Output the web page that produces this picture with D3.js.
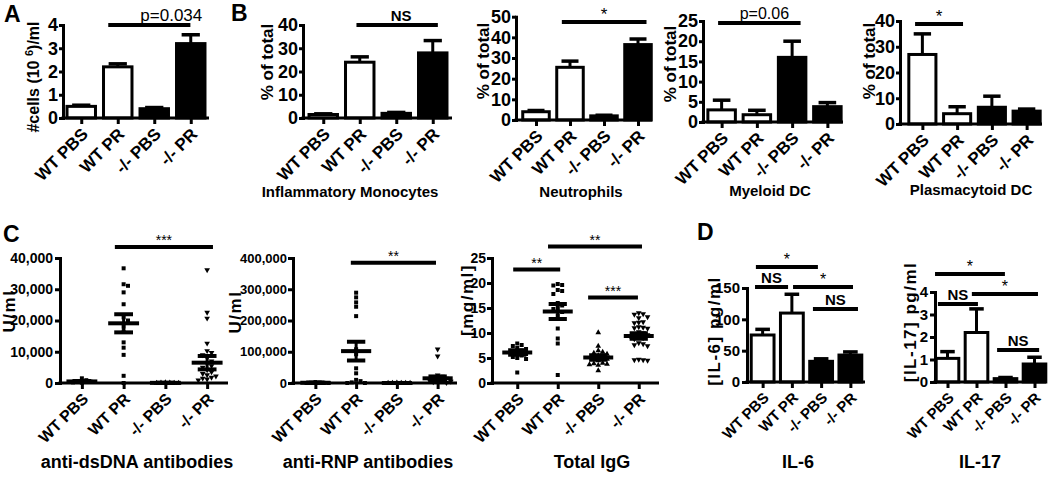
<!DOCTYPE html>
<html><head><meta charset="utf-8">
<script src="https://cdn.jsdelivr.net/npm/d3@7"></script>
<style>
body{margin:0;background:#fff}
svg text{font-family:"Liberation Sans",Arial,Helvetica,sans-serif;fill:#000}
</style></head><body>
<svg id="c" width="1050" height="477"></svg>
<script>
// ---------------- DATA ----------------
const groups = ["WT PBS", "WT PR", "-/- PBS", "-/- PR"];

// A: cells
const cellsMean = [0.5, 2.2, 0.4, 3.2];
const cellsSem  = [0.05, 0.13, 0.05, 0.38];
const cellsTicks = [0, 1, 2, 3, 4];
// B
const monoMean = [1.5, 24, 2, 28];
const monoSem  = [0.3, 2.3, 0.4, 5.3];
const monoTicks = [0, 10, 20, 30, 40];
const neutMean = [4, 25.5, 2, 36.5];
const neutSem  = [0.6, 3, 0.3, 2.7];
const neutTicks = [0, 10, 20, 30, 40, 50];
const mdcMean = [3, 1.8, 16, 3.8];
const mdcSem  = [2.4, 1.1, 4, 1];
const mdcTicks = [0, 5, 10, 15, 20, 25];
const pdcMean = [27, 4, 6.5, 5];
const pdcSem  = [8, 2.7, 4.3, 0.8];
const pdcTicks = [0, 10, 20, 30, 40];

// C: anti-dsDNA (U/ml)
const dsdnaPoints = [
  [1500, 900, 600, 400, 200, 100],
  [36700, 31600, 31100, 29000, 25200, 21000, 20000, 18000, 16500, 13000, 11300, 9000, 2300, 0],
  [150, 100, 50, 0, 0, 0],
  [36200, 22600, 20700, 12700, 10300, 9700, 9000, 8000, 7000, 6200, 5500, 5000, 4200, 3500, 3000, 2600, 2200, 1800, 1500, 1200, 900]
];
const dsdnaMean = [500, 19100, 50, 6500];
const dsdnaSem  = [150, 2900, 15, 2150];
const dsdnaTicks = [0, 10000, 20000, 30000, 40000];
// anti-RNP (U/ml)
const rnpPoints = [
  [3000, 1500, 800, 300, 0, 0],
  [289000, 274000, 258000, 244000, 214000, 108000, 92000, 47000, 31000, 10000, 6000, 2000, 0, 0],
  [500, 200, 0, 0, 0, 0],
  [108000, 86000, 25000, 21000, 18000, 15000, 12000, 9000, 7000, 5000, 3000, 1000]
];
const rnpMean = [800, 102000, 100, 15000];
const rnpSem  = [400, 30000, 60, 6000];
const rnpTicks = [0, 100000, 200000, 300000, 400000];
// Total IgG (mg/ml)
const iggPoints = [
  [7.9, 7.6, 7.4, 7.0, 6.8, 6.5, 6.3, 6.0, 5.8, 5.5, 5.2, 5.0, 4.8, 2.1],
  [19.8, 19.6, 19.5, 18.6, 18.4, 17.8, 16, 15.5, 15, 14.8, 14.2, 13.5, 10.9, 8.9, 7.9, 1.6],
  [10.1, 7.4, 6.5, 6.2, 6.0, 5.8, 5.5, 5.3, 5.0, 4.8, 4.5, 4.0, 3.9, 3.8, 3.7, 3.6, 2.5],
  [14.0, 13.8, 13.7, 13.2, 13.0, 12.2, 12.1, 12.0, 11.2, 11.1, 11.0, 10.9, 10.2, 10.0, 9.8, 9.6, 9.4, 9.2, 9.0, 8.8, 8.0, 7.8, 7.6, 7.4, 4.7, 4.6, 4.6, 4.5]
];
const iggMean = [6.1, 14.3, 5.1, 9.4];
const iggSem  = [0.45, 1.5, 0.45, 0.55];
const iggTicks = [0, 5, 10, 15, 20, 25];

// D
const il6Mean = [75, 110, 33, 43];
const il6Sem  = [9, 30, 4, 5];
const il6Ticks = [0, 50, 100, 150];
const il17Mean = [1.05, 2.2, 0.15, 0.8];
const il17Sem  = [0.3, 1.05, 0.05, 0.3];
const il17Ticks = [0, 1, 2, 3, 4];

// significance annotations: [label, from group, to group, level]
const cellsSig = [["p=0.034", 0.74, 2.99, 4.0]];
const monoSig  = [["NS", 0.91, 3.14, 40]];
const neutSig  = [["*", 0.76, 3.25, 47.4]];
const mdcSig   = [["p=0.06", -0.1, 2.24, 24.5]];
const pdcSig   = [["*", -0.21, 1.17, 38.8]];
const dsdnaSig = [["***", 0.79, 3.14, 43500]];
const rnpSig   = [["**", 0.87, 2.96, 385000]];
const iggSig   = [["**", -0.1, 1.06, 22.7], ["**", 0.76, 3.08, 27.3], ["***", 1.75, 2.98, 17.1]];
const il6Sig   = [["*", -0.23, 1.89, 183.5], ["NS", -0.26, 0.87, 151.6], ["*", 1.04, 3.09, 151.6], ["NS", 1.72, 3.26, 116.5]];
const il17Sig  = [["*", -0.43, 1.98, 4.8], ["NS", -0.33, 1.05, 3.47], ["*", 0.84, 3.12, 3.91], ["NS", 1.71, 3.16, 1.42]];

// ---------------- DRAWING ----------------
const svg = d3.select("#c");
const FONT = '"Liberation Sans", Arial, Helvetica, sans-serif';
const barFills = ["#fff", "#fff", "#000", "#000"];

function addText(x, y, s, o = {}) {
  const t = svg.append("text").attr("x", x).attr("y", y).text(s)
    .attr("text-anchor", o.anchor || "middle")
    .attr("font-size", o.size || 16)
    .attr("font-weight", o.weight || "bold");
  if (o.ls) t.attr("letter-spacing", o.ls);
  if (o.rotate) t.attr("transform", `rotate(${o.rotate},${x},${y})`);
  return t;
}

function axes(p, x, y) {
  const ya = svg.append("g").attr("transform", `translate(${p.ax},0)`)
    .call(d3.axisLeft(y).tickValues(p.ticks).tickSize(p.tickLen ?? 5).tickSizeOuter(0).tickPadding(p.tickPad ?? 2).tickFormat(p.fmt || d3.format("d")));
  ya.select(".domain").attr("stroke-width", 3).attr("stroke-linecap", "square");
  ya.selectAll(".tick line").attr("stroke-width", 3);
  ya.selectAll(".tick text").attr("font-size", p.ytFont).attr("font-weight", "bold").attr("font-family", FONT).attr("fill", "#000");
  const xa = svg.append("g").attr("transform", `translate(0,${y(0)})`)
    .call(d3.axisBottom(x).tickValues([0, 1, 2, 3]).tickFormat(i => groups[i]).tickSize(6).tickSizeOuter(0));
  xa.select(".domain").remove();
  xa.append("line").attr("x1", p.ax - 1.5).attr("x2", p.xEnd).attr("stroke", "#000").attr("stroke-width", 3);
  xa.selectAll(".tick line").attr("stroke-width", 3);
  xa.selectAll(".tick text").attr("font-size", p.xtFont).attr("font-weight", "bold").attr("font-family", FONT).attr("fill", "#000")
    .attr("text-anchor", "end").attr("x", 0).attr("y", 0).attr("dy", "0.35em")
    .attr("transform", `translate(${p.xtdx ?? 3},${p.xtdy ?? 13}) rotate(-45)`);
}

function sigLines(x, y, list, p) {
  list.forEach(([label, a, b, lvl], k) => {
    const yy = y(lvl);
    svg.append("line").attr("x1", x(a)).attr("x2", x(b)).attr("y1", yy).attr("y2", yy)
      .attr("stroke", "#000").attr("stroke-width", 4);
    const star = label.startsWith("*");
    const isP = label.startsWith("p");
    const dx = (p.sigDx && p.sigDx[k]) || 0;
    addText((x(a) + x(b)) / 2 + dx, yy - (star ? 2 : 4), label, {
      size: star ? p.starFont : (isP ? p.pFont : p.nsFont),
      weight: (star || isP) ? "normal" : "bold"
    });
  });
}

function labels(p) {
  if (p.ylabel) addText(p.ylX, p.ylY, p.ylabel, {size: p.ylFont, rotate: -90, weight: p.ylWeight || "bold", ls: p.ylLs});
  if (p.title) addText(p.tX, p.tY, p.title, {size: p.tFont});
}

function barPanel(p, mean, sem, ticks, sig) {
  p.ticks = ticks;
  const x = d3.scaleLinear().domain([-0.5, 3.5]).range(p.xr);
  const y = d3.scaleLinear().domain([0, p.max]).range(p.yr);
  const step = x(1) - x(0);
  const bw = step * (p.bwf || 0.78), cw = step * 0.5;
  const g = svg.append("g");
  g.selectAll("rect").data(mean).join("rect")
    .attr("x", (d, i) => x(i) - bw / 2).attr("y", d => y(d))
    .attr("width", bw).attr("height", d => y(0) - y(d))
    .attr("fill", (d, i) => barFills[i]).attr("stroke", "#000").attr("stroke-width", 3);
  const e = g.selectAll("g.err").data(mean).join("g").attr("class", "err");
  e.append("line").attr("x1", (d, i) => x(i)).attr("x2", (d, i) => x(i))
    .attr("y1", d => y(d)).attr("y2", (d, i) => y(d + sem[i])).attr("stroke", "#000").attr("stroke-width", 3);
  e.append("line").attr("x1", (d, i) => x(i) - cw / 2).attr("x2", (d, i) => x(i) + cw / 2)
    .attr("y1", (d, i) => y(d + sem[i])).attr("y2", (d, i) => y(d + sem[i])).attr("stroke", "#000").attr("stroke-width", 3.5);
  axes(p, x, y);
  sigLines(x, y, sig, p);
  labels(p);
}

function swarm(vals, y, xc, d) {
  const placed = [];
  const order = vals.map((v, i) => i).sort((a, b) => vals[b] - vals[a]);
  const out = new Array(vals.length);
  order.forEach(i => {
    const py = y(vals[i]);
    for (let k = 0; k < 40; k++) {
      const off = (k === 0) ? 0 : (k % 2 ? 1 : -1) * Math.ceil(k / 2) * d;
      const px = xc + off;
      if (!placed.some(q => Math.abs(q[0] - px) < d - 0.1 && Math.abs(q[1] - py) < d - 0.1)) {
        placed.push([px, py]); out[i] = [px, py]; break;
      }
    }
  });
  return out;
}

const triUp = d3.symbol().type(d3.symbolTriangle).size(14);
function dotPanel(p, pts, mean, sem, ticks, sig) {
  p.ticks = ticks;
  const x = d3.scaleLinear().domain([-0.5, 3.5]).range(p.xr);
  const y = d3.scaleLinear().domain([0, p.max]).range(p.yr);
  const step = x(1) - x(0);
  const g = svg.append("g");
  pts.forEach((vals, gi) => {
    const pos = swarm(vals, y, x(gi), 4.4);
    const sel = g.append("g").selectAll("path").data(pos).join("path")
      .attr("fill", "#000");
    if (gi < 2) {
      sel.attr("d", "M-2,-2H2V2H-2Z").attr("transform", d => `translate(${d[0]},${d[1]})`);
    } else {
      sel.attr("d", triUp()).attr("transform", d => `translate(${d[0]},${d[1]}) rotate(${gi === 3 ? 180 : 0})`);
    }
  });
  const mw = step * 0.74, cw = step * 0.45;
  mean.forEach((m, i) => {
    const lo = y(Math.max(0, m - sem[i])), hi = y(m + sem[i]);
    g.append("line").attr("x1", x(i)).attr("x2", x(i)).attr("y1", lo).attr("y2", hi).attr("stroke", "#000").attr("stroke-width", 3);
    [lo, hi].forEach(v => g.append("line").attr("x1", x(i) - cw / 2).attr("x2", x(i) + cw / 2).attr("y1", v).attr("y2", v).attr("stroke", "#000").attr("stroke-width", 4));
    g.append("line").attr("x1", x(i) - mw / 2).attr("x2", x(i) + mw / 2).attr("y1", y(m)).attr("y2", y(m)).attr("stroke", "#000").attr("stroke-width", 4);
  });
  axes(p, x, y);
  sigLines(x, y, sig, p);
  labels(p);
}

// ---------------- LAYOUT ----------------
const topCfg = {ytFont: 18, xtFont: 17, ylFont: 17, tFont: 15, starFont: 17, nsFont: 15, pFont: 17, tickPad: 1, tickLen: 4};
barPanel(Object.assign({}, topCfg, {ax: 63, xr: [63, 209], xEnd: 209, yr: [118, 25], max: 4,
  ylabel: "", title: "", sigDx: [22]}), cellsMean, cellsSem, cellsTicks, cellsSig);
// A y label with superscript
{
  const t = svg.append("text").attr("transform", "translate(39,77) rotate(-90)").attr("text-anchor", "middle")
    .attr("font-size", 16).attr("font-weight", "bold");
  t.append("tspan").text("#cells (10 ");
  t.append("tspan").text("6").attr("font-size", 11).attr("dy", -6);
  t.append("tspan").text(")/ml").attr("dy", 6);
}
barPanel(Object.assign({}, topCfg, {ax: 303, xr: [305, 451], xEnd: 452, yr: [118, 25], max: 40, sigDx: [4],
  ylabel: "% of total", ylX: 273, ylY: 62, title: "Inflammatory Monocytes", tX: 350, tY: 197}), monoMean, monoSem, monoTicks, monoSig);
barPanel(Object.assign({}, topCfg, {ax: 516, xr: [519, 655], xEnd: 652, yr: [120, 16.7], max: 50, pFont: 15,
  ylabel: "% of total", ylX: 489, ylY: 61, title: "Neutrophils", tX: 581, tY: 197}), neutMean, neutSem, neutTicks, neutSig);
barPanel(Object.assign({}, topCfg, {ax: 703, xr: [704, 845], xEnd: 843, yr: [122, 21], max: 25, pFont: 16, sigDx: [5],
  ylabel: "% of total", ylX: 676, ylY: 64, title: "Myeloid DC", tX: 770, tY: 196}), mdcMean, mdcSem, mdcTicks, mdcSig);
barPanel(Object.assign({}, topCfg, {ax: 900, xr: [905, 1044], xEnd: 1042, yr: [124, 21], max: 40,
  ylabel: "% of total", ylX: 875, ylY: 61, title: "Plasmacytoid DC", tX: 971, tY: 195}), pdcMean, pdcSem, pdcTicks, pdcSig);

const midCfg = {ytFont: 14, xtFont: 16, ylFont: 17, tFont: 18, starFont: 14, nsFont: 15, pFont: 15, tickPad: 2, fmt: d3.format(",")};
dotPanel(Object.assign({}, midCfg, {ax: 60, xr: [61, 228], xEnd: 228, yr: [383, 258], max: 40000,
  ylabel: "U/ml", ylX: 15, ylY: 311, ylLs: 1.5, title: "anti-dsDNA antibodies", tX: 137, tY: 468}), dsdnaPoints, dsdnaMean, dsdnaSem, dsdnaTicks, dsdnaSig);
dotPanel(Object.assign({}, midCfg, {ax: 293, xr: [295, 458], xEnd: 457, yr: [383, 258], max: 400000, ytFont: 13, tickPad: 1,
  ylabel: "U/ml", ylX: 241, ylY: 312, ylLs: 1.5, title: "anti-RNP antibodies", tX: 368, tY: 468}), rnpPoints, rnpMean, rnpSem, rnpTicks, rnpSig);
dotPanel(Object.assign({}, midCfg, {ax: 492, xr: [497, 659], xEnd: 659, yr: [383, 258], max: 25, ytFont: 14, tickPad: 1, fmt: d3.format("d"),
  ylabel: "[mg/ml]", ylX: 473, ylY: 300, ylLs: 1.5, title: "Total IgG", tX: 592, tY: 468}), iggPoints, iggMean, iggSem, iggTicks, iggSig);

const dCfg = {ytFont: 15, xtFont: 15, ylFont: 17, ylWeight: "bold", tFont: 18, starFont: 16, nsFont: 15, pFont: 15, tickPad: 2, bwf: 0.78};
barPanel(Object.assign({}, dCfg, {ax: 747, xr: [748, 865], xEnd: 865, yr: [382, 288], max: 150,
  ylabel: "[IL-6] pg/ml", ylX: 720, ylY: 331, ylLs: 1.5, title: "IL-6", tX: 798, tY: 468}), il6Mean, il6Sem, il6Ticks, il6Sig);
barPanel(Object.assign({}, dCfg, {ax: 935, xr: [933, 1049], xEnd: 1046, yr: [382, 292], max: 4,
  ylabel: "[IL-17] pg/ml", ylX: 916, ylY: 322, ylLs: 1.5, title: "IL-17", tX: 980, tY: 468}), il17Mean, il17Sem, il17Ticks, il17Sig);

// panel letters
addText(4, 22, "A", {anchor: "start", size: 23});
addText(231, 21, "B", {anchor: "start", size: 23});
addText(3, 242, "C", {anchor: "start", size: 23});
addText(697, 240, "D", {anchor: "start", size: 23});
</script>
</body></html>
